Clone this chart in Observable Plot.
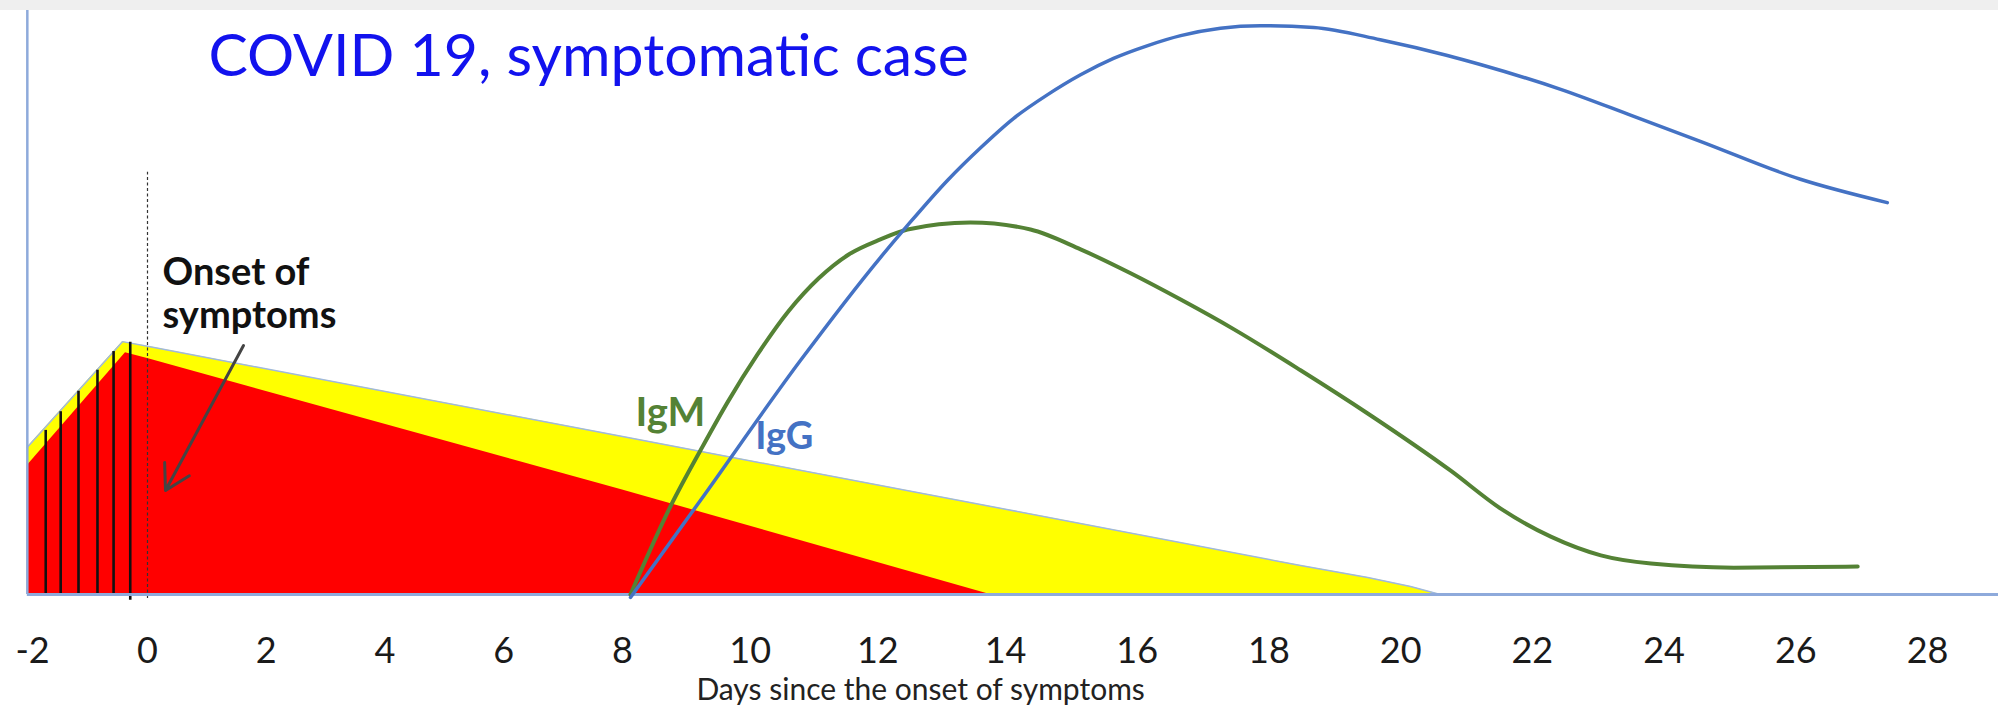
<!DOCTYPE html>
<html>
<head>
<meta charset="utf-8">
<script src="https://cdn.jsdelivr.net/npm/d3@7"></script>
<script src="https://cdn.jsdelivr.net/npm/@observablehq/plot@0.6"></script>
<style>
  body { margin: 0; background: #ffffff; }
  #band { height: 10px; background: #efefef; }
  #chart svg { display: block; }
</style>
</head>
<body>
<div id="band"></div>
<div id="chart"></div>
<script>
// ---- data (days since onset of symptoms, arbitrary level 0..100) ----
const dayTicks = [-2, 0, 2, 4, 6, 8, 10, 12, 14, 16, 18, 20, 22, 24, 26, 28];

// yellow band (upper envelope)
const yellowX = [-2.09, -0.435, 0, 8, 14, 18.48, 19.5, 20.15, 20.6];
const yellowY = [25.2, 43.3, 42.5, 27.05, 14.6, 4.97, 2.91, 1.37, 0];

// red area
const redX = [-2.09, -0.383, 0, 8, 13.76];
const redY = [22.1, 41.4, 40.4, 17.9, 0];

// black hatch lines on the pre-symptomatic part
const hatchX = [-1.77, -1.51, -1.20, -0.87, -0.59, -0.30];
const hatchBottom = [0, 0, 0, 0, 0, -1.0];
const hatchTop = [28.1, 31.3, 34.8, 38.4, 41.6, 43.2];

// onset of symptoms marker
const onsetX = [0];
const onsetY1 = [-0.7];
const onsetY2 = [72.3];

// IgM (green)
const igmX = [8.125, 8.752, 9.253, 9.645, 10.115, 10.60, 11.07, 11.556, 12.04, 12.465, 13.45, 14.38, 15.14, 15.90, 16.66, 17.47, 18.48, 19.50, 20.76, 21.52, 22.28, 23.04, 23.80, 25.06, 26.94];
const igmY = [0, 15.1, 25.3, 32.9, 41.1, 48.5, 54.1, 58.3, 60.8, 62.5, 63.7, 62.5, 59.1, 55.0, 50.5, 45.4, 38.4, 31.0, 21.2, 14.7, 9.9, 6.7, 5.3, 4.6, 4.8];

// IgG (blue)
const iggX = [8.125, 9.22, 10.79, 12.04, 12.465, 13.09, 13.61, 14.12, 14.64, 15.14, 15.64, 16.16, 16.66, 17.87, 18.68, 19.69, 20.71, 21.21, 22.43, 23.51, 24.55, 26.07, 27.39];
const iggY = [-0.5, 16.1, 40.1, 57.7, 63.2, 70.9, 76.5, 81.5, 85.6, 89.0, 91.8, 94.0, 95.7, 97.4, 97.1, 95.0, 92.3, 90.75, 86.5, 82.0, 77.6, 71.1, 67.1];

// annotations
const titleText = ["COVID 19, symptomatic case"];
const titleX = [1.027], titleY = [92.0];
const onsetText = ["Onset of\nsymptoms"];
const onsetTextX = [0.253], onsetTextY = [51.6];
const igmLabel = ["IgM"], igmLabelX = [8.204], igmLabelY = [31.0];
const iggLabel = ["IgG"], iggLabelX = [10.08], iggLabelY = [27.0];
const arrowX1 = [1.617], arrowY1 = [42.64], arrowX2 = [0.303], arrowY2 = [17.81];
const xTitle = ["Days since the onset of symptoms"];
const xTitleX = [12.67], xTitleY = [-18.0];

const axisStart = -2.09, axisEnd = 29.1;

// piecewise x scale (the original tick labels are not evenly spaced)
const xKnots = [-2, 0, 8, 14, 28];
const xKnotRange = [32, 147, 622, 1005, 1927];

const axisBlue = "#8eaadb";

const chart = Plot.plot({
  width: 1998,
  height: 696,
  marginTop: 0,
  marginBottom: 112,
  marginLeft: 0,
  marginRight: 0,
  style: { fontFamily: "Lato, sans-serif", background: "white", overflow: "visible" },
  x: { type: "linear", domain: xKnots, range: xKnotRange, axis: null },
  y: { domain: [0, 100], axis: null },
  marks: [
    Plot.areaY(yellowX, { x: yellowX, y: yellowY, fill: "#ffff00" }),
    Plot.areaY(redX, { x: redX, y: redY, fill: "#ff0000" }),
    Plot.line(yellowX, { x: yellowX, y: yellowY, stroke: "#9fb8e0", strokeWidth: 1.5 }),
    Plot.ruleX(hatchX, { x: hatchX, y1: hatchBottom, y2: hatchTop, stroke: "#111", strokeWidth: 2.6 }),
    Plot.ruleX(onsetX, { x: onsetX, y1: onsetY1, y2: onsetY2, stroke: "#333", strokeWidth: 1.2, strokeDasharray: "3,2.5" }),
    Plot.ruleY([0], { x1: axisStart, x2: axisEnd, stroke: axisBlue, strokeWidth: 3 }),
    Plot.ruleX([axisStart], { y1: 0, y2: 100, stroke: axisBlue, strokeWidth: 2.5 }),
    Plot.line(igmX, { x: igmX, y: igmY, stroke: "#548235", strokeWidth: 4, curve: "monotone-x" }),
    Plot.line(iggX, { x: iggX, y: iggY, stroke: "#4472c4", strokeWidth: 3.5, curve: "monotone-x" }),
    Plot.axisX({ ticks: dayTicks, tickSize: 0, tickPadding: 43, fontSize: 36, fill: "#1a1a1a", label: null, tickFormat: d => String(d) }),
    Plot.text(xTitle, { x: xTitleX, y: xTitleY, text: d => d, fontSize: 30, fill: "#222", lineAnchor: "bottom", textAnchor: "middle" }),
    Plot.text(titleText, { x: titleX, y: titleY, text: d => d, fontSize: 59, fill: "#1212ee", textAnchor: "start", lineAnchor: "middle" }),
    Plot.text(onsetText, { x: onsetTextX, y: onsetTextY, text: d => d, fontSize: 38, fontWeight: "bold", fill: "#111", textAnchor: "start", lineAnchor: "middle", lineHeight: 1.13 }),
    Plot.text(igmLabel, { x: igmLabelX, y: igmLabelY, text: d => d, fontSize: 40, fontWeight: "bold", fill: "#548235", textAnchor: "start" }),
    Plot.text(iggLabel, { x: iggLabelX, y: iggLabelY, text: d => d, fontSize: 38, fontWeight: "bold", fill: "#4472c4", textAnchor: "start" }),
    Plot.arrow(arrowX1, { x1: arrowX1, y1: arrowY1, x2: arrowX2, y2: arrowY2, stroke: "#444", strokeWidth: 3, headLength: 14 })
  ]
});
document.getElementById("chart").appendChild(chart);
</script>
</body>
</html>
